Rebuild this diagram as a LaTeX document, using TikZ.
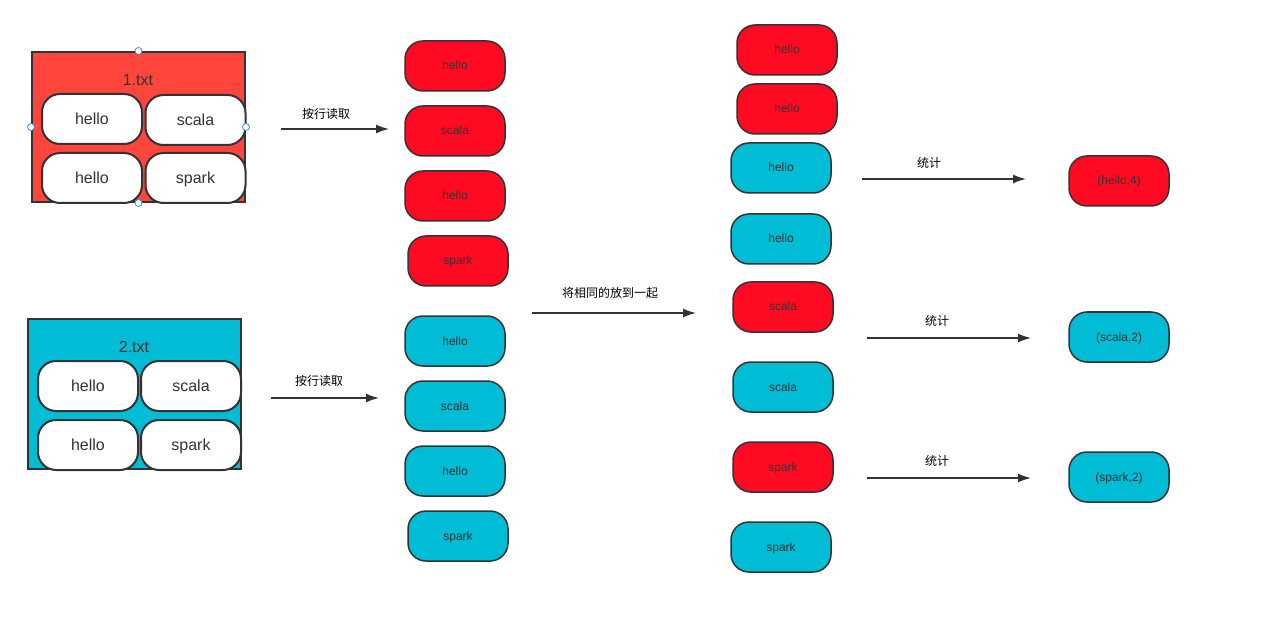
\documentclass[tikz,border=0pt]{standalone}
\usepackage{fontspec}
\setmainfont{Liberation Sans}
\newfontfamily\cjk{Noto Sans CJK SC}
\usetikzlibrary{arrows.meta}
\definecolor{boxred}{HTML}{FF453C}
\definecolor{pillred}{HTML}{FF0A22}
\definecolor{cyanc}{HTML}{00BCD4}
\definecolor{edge}{HTML}{333333}
\definecolor{handle}{HTML}{3A8EE6}
\begin{document}
\begin{tikzpicture}[x=1pt,y=-1pt,
  pill/.style={draw=edge,line width=1.5pt,rounded corners=18pt,minimum width=100pt,minimum height=50pt,inner sep=0pt,text=edge,text height=8.5pt,text depth=0.5pt,font=\fontsize{12}{14}\selectfont},
  redpill/.style={pill,fill=pillred},
  cyanpill/.style={pill,fill=cyanc},
  wpill/.style={pill,fill=white,line width=2pt,text height=11.5pt,text depth=0.5pt,font=\fontsize{16}{19}\selectfont},
  filebox/.style={draw=edge,line width=2pt,minimum width=213pt,minimum height=150pt,inner sep=0pt},
  flow/.style={draw=edge,line width=1.5pt,-{Latex[length=13pt,width=9pt]}},
  lbl/.style={text=black,font=\cjk\fontsize{12}{14}\selectfont},
  hdl/.style={circle,draw=handle,fill=white,line width=0.8pt,minimum size=7pt,inner sep=0pt}]
\useasboundingbox (0,0) rectangle (1265,617);
% file 1
\node[filebox,fill=boxred] (f1) at (138.5,127) {};
\node[text=edge,font=\fontsize{16}{19}\selectfont] (t1) at (138,80) {1.txt};
\node[wpill] (a1) at (92,119) {hello};
\node[wpill] (a2) at (195.5,120) {scala};
\node[wpill] (a3) at (92,178) {hello};
\node[wpill] (a4) at (195.5,178) {spark};
\node[hdl] (h1) at (f1.north) {};
\node[hdl] (h2) at (f1.west) {};
\node[hdl] (h3) at (f1.east) {};
\node[hdl] (h4) at (f1.south) {};
% file 2
\node[filebox,fill=cyanc] (f2) at (134.5,394) {};
\node[text=edge,font=\fontsize{16}{19}\selectfont] (t2) at (134,347) {2.txt};
\node[wpill] (b1) at (88,386) {hello};
\node[wpill] (b2) at (191,386) {scala};
\node[wpill] (b3) at (88,445) {hello};
\node[wpill] (b4) at (191,445) {spark};
% read arrows
\coordinate (r1s) at (281,129); \coordinate (r1e) at (389,129);
\draw[flow] (r1s) -- (r1e);
\node[lbl] (l1) at (326,114) {按行读取};
\coordinate (r2s) at (271,398); \coordinate (r2e) at (379,398);
\draw[flow] (r2s) -- (r2e);
\node[lbl] (l2) at (319,381) {按行读取};
% column 2
\node[redpill] (c1) at (455,66) {hello};
\node[redpill] (c2) at (455,131) {scala};
\node[redpill] (c3) at (455,196) {hello};
\node[redpill] (c4) at (458,261) {spark};
\node[cyanpill] (c5) at (455,341) {hello};
\node[cyanpill] (c6) at (455,406) {scala};
\node[cyanpill] (c7) at (455,471) {hello};
\node[cyanpill] (c8) at (458,536) {spark};
% group arrow
\coordinate (gs) at (532,313); \coordinate (ge) at (696,313);
\draw[flow] (gs) -- (ge);
\node[lbl] (lg) at (610,293) {将相同的放到一起};
% column 3
\node[redpill] (d1) at (787,50) {hello};
\node[redpill] (d2) at (787,109) {hello};
\node[cyanpill] (d3) at (781,168) {hello};
\node[cyanpill] (d4) at (781,239) {hello};
\node[redpill] (d5) at (783,307) {scala};
\node[cyanpill] (d6) at (783,387) {scala};
\node[redpill] (d7) at (783,467) {spark};
\node[cyanpill] (d8) at (781,547) {spark};
% count arrows
\coordinate (s1s) at (862,179); \coordinate (s1e) at (1026,179);
\draw[flow] (s1s) -- (s1e);
\node[lbl] (ls1) at (929,163) {统计};
\coordinate (s2s) at (867,338); \coordinate (s2e) at (1031,338);
\draw[flow] (s2s) -- (s2e);
\node[lbl] (ls2) at (937,321) {统计};
\coordinate (s3s) at (867,478); \coordinate (s3e) at (1031,478);
\draw[flow] (s3s) -- (s3e);
\node[lbl] (ls3) at (937,461) {统计};
% results
\node[redpill] (e1) at (1119,181) {(hello,4)};
\node[cyanpill] (e2) at (1119,337) {(scala,2)};
\node[cyanpill] (e3) at (1119,477) {(spark,2)};
\end{tikzpicture}
\end{document}
